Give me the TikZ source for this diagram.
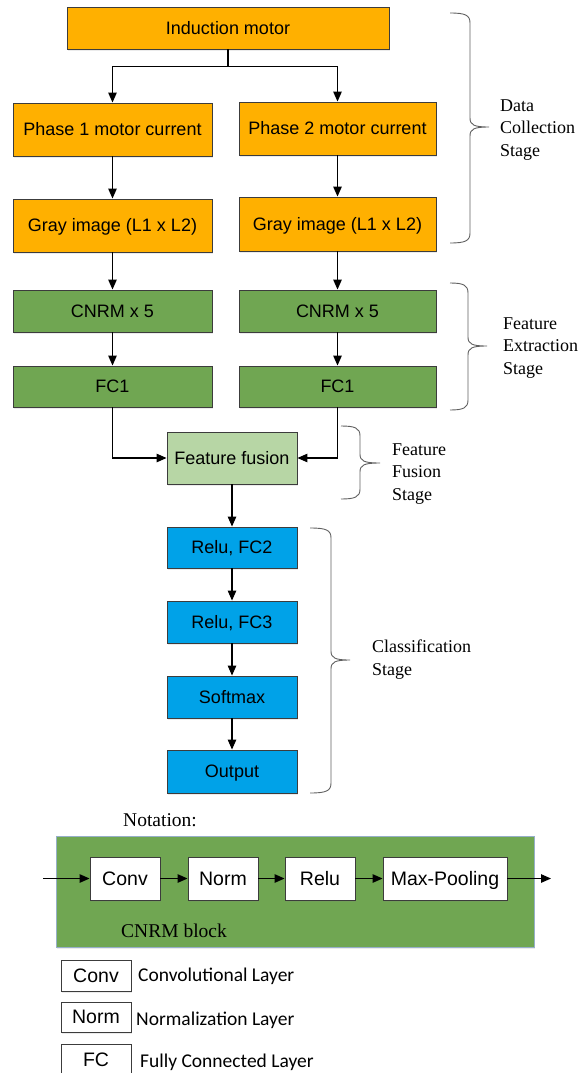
\documentclass[tikz,border=0pt]{standalone}
\usepackage{fontspec}
\setmainfont{Liberation Serif}
\newfontfamily\arialf{Liberation Sans}
\newfontfamily\calib{Carlito}
\usetikzlibrary{arrows.meta,shadows}
\definecolor{orng}{RGB}{255,176,0}
\definecolor{dgreen}{RGB}{112,166,82}
\definecolor{lgreen}{RGB}{183,214,165}
\definecolor{cblue}{RGB}{0,162,232}
\definecolor{bord}{RGB}{60,60,60}
\definecolor{brc}{RGB}{95,95,95}
\definecolor{nframe}{RGB}{150,175,200}
\newcommand{\stagebrace}[6]{%
  \draw[brc, line width=0.9pt] (#1,#4) .. controls (#2-5,#4) and (#2,#4+2) .. (#2,#4+10)
    -- (#2,#5-9) .. controls (#2,#5-2) and (#2+4,#5) .. (#3,#5)
    .. controls (#2+4,#5) and (#2,#5+2) .. (#2,#5+9)
    -- (#2,#6-10) .. controls (#2,#6-2) and (#2-5,#6) .. (#1,#6);}
\begin{document}
\begin{tikzpicture}[x=1pt,y=-1pt,
  box/.style={draw=bord, line width=0.9pt, rectangle, inner sep=0pt,
    text height=16.3pt, text depth=3.8pt,
    font=\arialf\fontsize{18}{21}\selectfont,
    drop shadow={shadow xshift=1.2pt, shadow yshift=-1.6pt, opacity=0.16}},
  obox/.style={box, fill=orng},
  gbox/.style={box, fill=dgreen},
  lbox/.style={box, fill=lgreen},
  bbox/.style={box, fill=cblue},
  wbox/.style={box, fill=white, text height=17.6pt, text depth=4.1pt, font=\arialf\fontsize{19.5}{22}\selectfont},
  arr/.style={-{Triangle[length=10pt,width=8.5pt]}, line width=1.2pt, black},
  stage/.style={anchor=west, align=left, inner sep=0pt, font=\fontsize{18}{22.5}\selectfont},
  legtxt/.style={anchor=west, inner sep=0pt, font=\calib\fontsize{19.5}{22}\selectfont}
]
\useasboundingbox (0,0) rectangle (583,1073);
% data collection
\node[obox, minimum width=322pt, minimum height=42pt] (im) at (228,28) {Induction motor};
\node[obox, minimum width=199pt, minimum height=53pt] (p1) at (112.5,129.5) {Phase 1 motor current};
\node[obox, minimum width=197pt, minimum height=53pt] (p2) at (337.5,128.5) {Phase 2 motor current};
\node[obox, minimum width=199pt, minimum height=53pt] (g1) at (112.5,225.5) {Gray image (L1 x L2)};
\node[obox, minimum width=197pt, minimum height=54pt] (g2) at (337.5,224) {Gray image (L1 x L2)};
% feature extraction
\node[gbox, minimum width=199pt, minimum height=42pt] (c1) at (112.5,311) {CNRM x 5};
\node[gbox, minimum width=197pt, minimum height=42pt] (c2) at (337.5,311) {CNRM x 5};
\node[gbox, minimum width=199pt, minimum height=41pt] (f1) at (112.5,386.5) {FC1};
\node[gbox, minimum width=197pt, minimum height=41pt] (f2) at (337.5,386.5) {FC1};
% fusion
\node[lbox, minimum width=130pt, minimum height=52pt] (ff) at (232,458) {Feature fusion};
% classification
\node[bbox, minimum width=130pt, minimum height=41pt] (r2) at (232,547.5) {Relu, FC2};
\node[bbox, minimum width=130pt, minimum height=42pt] (r3) at (232,622) {Relu, FC3};
\node[bbox, minimum width=130pt, minimum height=42pt] (sm) at (232,697) {Softmax};
\node[bbox, minimum width=130pt, minimum height=43pt] (out) at (232,771.5) {Output};
% connectors
\draw[arr] (im.south) -- ++(0,17) coordinate (br) -| (p1.north);
\draw[arr] (br) -| (p2.north);
\draw[arr] (p1) -- (g1);
\draw[arr] (p2) -- (g2);
\draw[arr] (g1) -- (c1);
\draw[arr] (g2) -- (c2);
\draw[arr] (c1) -- (f1);
\draw[arr] (c2) -- (f2);
\draw[arr] (f1.south) |- (ff.west);
\draw[arr] (f2.south) |- (ff.east);
\draw[arr] (ff) -- (r2);
\draw[arr] (r2) -- (r3);
\draw[arr] (r3) -- (sm);
\draw[arr] (sm) -- (out);
% braces and stage labels
\stagebrace{450}{470}{489}{13}{127}{243}
\stagebrace{450}{468}{487}{283}{346}{410}
\stagebrace{341}{360}{380}{426}{463}{499}
\stagebrace{310}{331}{350}{528}{660}{793}
\node[stage] (sdc) at (500,130) {Data\\Collection\\Stage};
\node[stage] (sfe) at (503,348) {Feature\\Extraction\\Stage};
\node[stage] (sff) at (392,474) {Feature\\Fusion\\Stage};
\node[stage] (scl) at (372,659.5) {Classification\\Stage};
% notation
\node[anchor=west, inner sep=0pt, font=\fontsize{19.5}{22}\selectfont] (nt) at (123,820) {Notation:};
\node[draw=nframe, line width=0.8pt, fill=dgreen, minimum width=478pt, minimum height=111pt, inner sep=0pt,
  drop shadow={shadow xshift=1.2pt, shadow yshift=-1.6pt, opacity=0.16}] (blk) at (295,891.5) {};
\node[wbox, minimum width=70pt, minimum height=43pt] (nconv) at (125,878.5) {Conv};
\node[wbox, minimum width=70pt, minimum height=43pt] (nnorm) at (223,878.5) {Norm};
\node[wbox, minimum width=70pt, minimum height=43pt] (nrelu) at (320,878.5) {Relu};
\node[wbox, minimum width=124pt, minimum height=43pt] (nmp) at (445,878.5) {Max-Pooling};
\coordinate (nin) at (43,878.5);
\coordinate (nout) at (551,878.5);
\draw[arr] (nin) -- (nconv);
\draw[arr] (nconv) -- (nnorm);
\draw[arr] (nnorm) -- (nrelu);
\draw[arr] (nrelu) -- (nmp);
\draw[arr] (nmp) -- (nout);
\node[anchor=west, inner sep=0pt, font=\fontsize{19.5}{22}\selectfont] (cb) at (121,931) {CNRM block};
% legend
\node[wbox, minimum width=70pt, minimum height=31pt] (lconv) at (96,975.5) {Conv};
\node[legtxt] (tconv) at (138,976) {Convolutional Layer};
\node[wbox, minimum width=70pt, minimum height=30pt] (lnorm) at (96,1017) {Norm};
\node[legtxt] (tnorm) at (136,1020) {Normalization Layer};
\node[wbox, minimum width=70pt, minimum height=32pt] (lfc) at (96,1060) {FC};
\node[legtxt] (tfc) at (140,1062) {Fully Connected Layer};
\end{tikzpicture}
\end{document}
